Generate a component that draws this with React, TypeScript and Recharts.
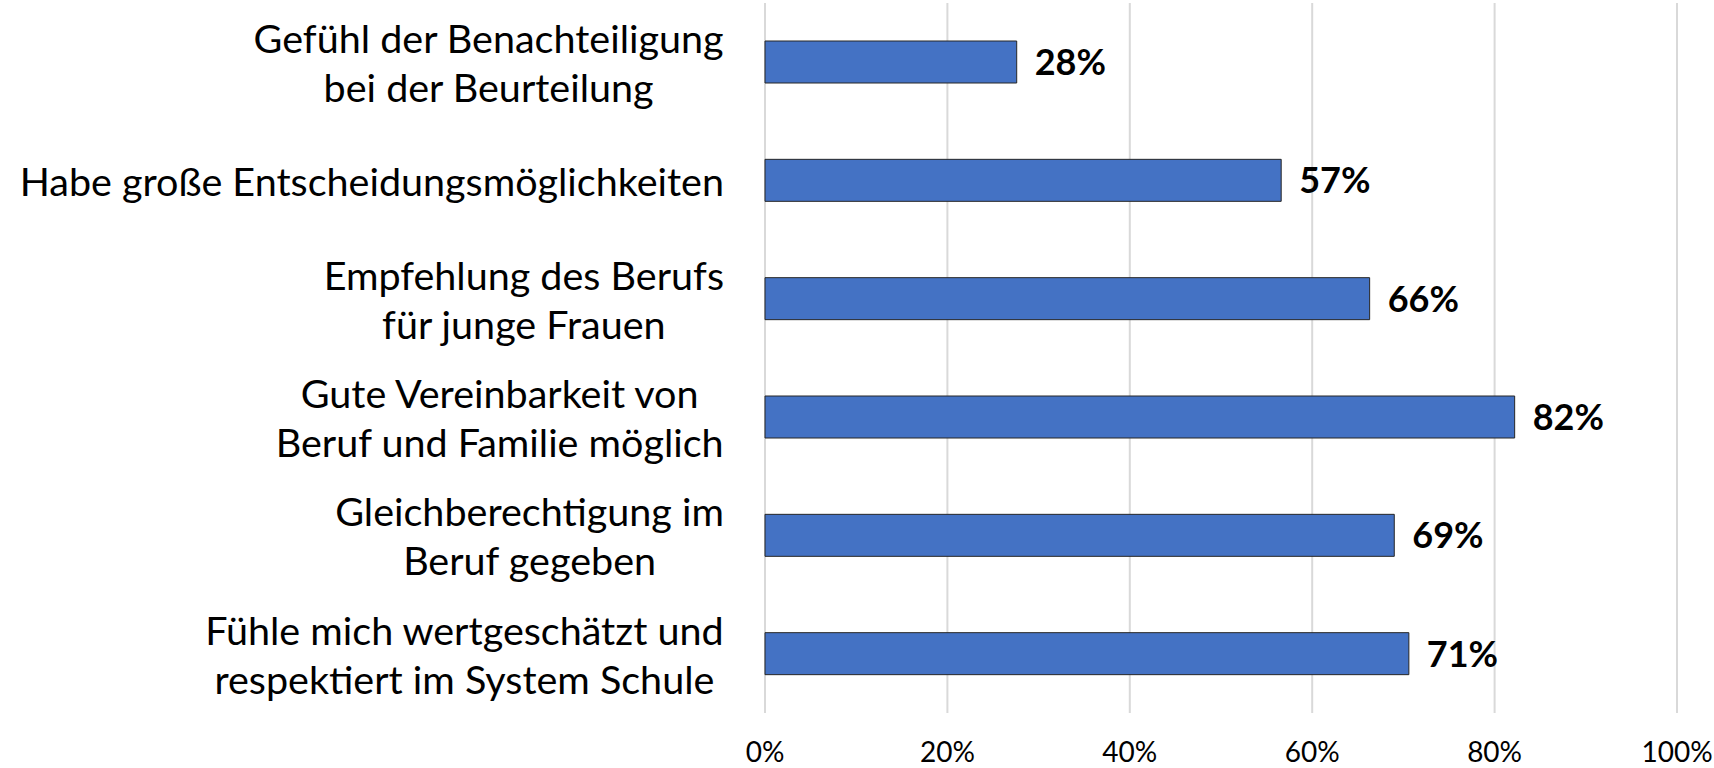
import React from "react";
import { BarChart, Bar, XAxis, YAxis, CartesianGrid, LabelList } from "recharts";

const categories: string[] = [
  "Gefühl der Benachteiligung\nbei der Beurteilung",
  "Habe große Entscheidungsmöglichkeiten",
  "Empfehlung des Berufs\nfür junge Frauen",
  "Gute Vereinbarkeit von\nBeruf und Familie möglich",
  "Gleichberechtigung im\nBeruf gegeben",
  "Fühle mich wertgeschätzt und\nrespektiert im System Schule",
];
const values: number[] = [0.276, 0.566, 0.663, 0.822, 0.69, 0.706];
const xTicks: number[] = [0, 0.2, 0.4, 0.6, 0.8, 1];

const data = categories.map((name, i) => ({ name, value: values[i] }));

const FONT = "Lato, 'Open Sans', sans-serif";
const CAT_SIZE = 39.5;
const LINE_H = 49;
const VAL_SIZE = 36;

let ctx: CanvasRenderingContext2D | null = null;
function measure(text: string, size: number): number {
  if (!ctx) {
    const c = document.createElement("canvas");
    ctx = c.getContext("2d");
  }
  if (!ctx) return text.length * size * 0.5;
  ctx.font = `${size}px Lato`;
  return ctx.measureText(text).width;
}

const CategoryTick = (props: any) => {
  const { x, y, payload } = props;
  const lines: string[] = String(payload.value).split("\n");
  const blockW = Math.max(...lines.map((l) => measure(l, CAT_SIZE)));
  const cx = x - blockW / 2;
  const n = lines.length;
  return (
    <g>
      {lines.map((l, i) => {
        const lineCenter = y + 1 + (i - (n - 1) / 2) * LINE_H;
        return (
          <text
            key={i}
            x={cx}
            y={lineCenter + CAT_SIZE * 0.36}
            textAnchor="middle"
            fontFamily={FONT}
            fontSize={CAT_SIZE}
            fill="#000"
          >
            {l}
          </text>
        );
      })}
    </g>
  );
};

const ValueLabel = (props: any) => {
  const { x, y, width, height, value } = props;
  return (
    <text
      x={x + width + 18}
      y={y + height / 2 + VAL_SIZE * 0.36}
      fontFamily={FONT}
      fontWeight={700}
      fontSize={VAL_SIZE}
      fill="#000"
    >
      {`${Math.round(value * 100)}%`}
    </text>
  );
};

export default function App() {
  return (
    <div style={{ position: "absolute", left: 0, top: 0, background: "#fff" }}>
      <BarChart
        width={1714}
        height={768}
        data={data}
        layout="vertical"
        margin={{ top: 3, right: 37, bottom: 0, left: 0 }}
      >
        <CartesianGrid horizontal={false} vertical={true} stroke="#d9d9d9" strokeWidth={2} />
        <XAxis
          type="number"
          domain={[0, 1]}
          ticks={xTicks}
          tickFormatter={(v: number) => `${Math.round(v * 100)}%`}
          axisLine={false}
          tickLine={false}
          tickSize={0}
          tickMargin={29}
          height={55}
          interval={0}
          tick={{ fontFamily: FONT, fontSize: 28, fill: "#000" }}
        />
        <YAxis
          type="category"
          dataKey="name"
          width={765}
          axisLine={false}
          tickLine={false}
          tickSize={0}
          tickMargin={41}
          interval={0}
          tick={<CategoryTick />}
        />
        <Bar
          dataKey="value"
          fill="#4472c4"
          stroke="#262626"
          strokeWidth={1}
          barSize={42}
          isAnimationActive={false}
        >
          <LabelList dataKey="value" content={<ValueLabel />} />
        </Bar>
      </BarChart>
    </div>
  );
}
